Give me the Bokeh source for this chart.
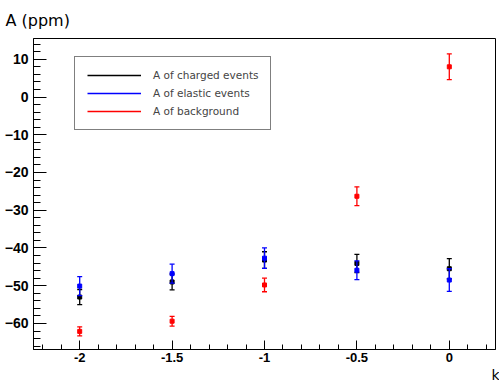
import numpy as np
from bokeh.plotting import figure
from bokeh.models import Range1d, Legend, LegendItem, Title, FixedTicker, ColumnDataSource
from bokeh.embed import file_html
from bokeh.resources import INLINE

# ---- data ----
k = [-2.0, -1.5, -1.0, -0.5, 0.0]
charged = [-53.0, -49.0, -43.2, -44.1, -45.5]
charged_err = [2.0, 2.1, 2.2, 2.4, 2.7]
elastic = [-50.1, -46.8, -42.7, -45.9, -48.5]
elastic_err = [2.5, 2.5, 2.7, 2.5, 3.0]
background = [-62.1, -59.4, -49.8, -26.3, 8.0]
background_err = [1.2, 1.3, 1.8, 2.5, 3.4]
x_ticks = [-2.0, -1.5, -1.0, -0.5, 0.0]
y_ticks = [-60, -50, -40, -30, -20, -10, 0, 10]
series_names = ["A of charged events", "A of elastic events", "A of background"]

p = figure(width=499, height=384, output_backend="svg", toolbar_location=None,
           x_range=Range1d(-2.25, 0.25), y_range=Range1d(-66.9, 15.5),
           min_border_left=33, min_border_right=4, min_border_top=36, min_border_bottom=35)
p.xgrid.visible = False
p.ygrid.visible = False
p.outline_line_color = "black"
p.outline_line_width = 1
p.outline_line_alpha = 1
p.background_fill_color = "white"
p.border_fill_color = "white"

p.title.text = "A (ppm)"
p.title.align = "left"
p.title.offset = -28
p.title.text_font = "DejaVu Sans"
p.title.text_font_size = "16px"
p.title.text_font_style = "normal"
p.title.text_color = "black"
p.title.standoff = 17

for ax in (p.xaxis[0], p.yaxis[0]):
    ax.axis_line_color = "black"
    ax.major_tick_line_color = "black"
    ax.minor_tick_line_color = "black"
    ax.major_tick_out = 0
    ax.minor_tick_out = 0
    ax.major_label_text_font = "Liberation Sans"
    ax.major_label_text_font_style = "bold"
    ax.major_label_text_font_size = "14px"
    ax.major_label_text_color = "black"

p.xaxis[0].ticker = FixedTicker(ticks=x_ticks,
                                minor_ticks=[round(v, 1) for v in np.arange(-2.2, 0.25, 0.1)])
p.yaxis[0].ticker = FixedTicker(ticks=y_ticks, minor_ticks=list(range(-66, 16, 2)))
p.xaxis[0].major_tick_in = 9
p.xaxis[0].minor_tick_in = 5
p.yaxis[0].major_tick_in = 13
p.yaxis[0].minor_tick_in = 7
p.xaxis[0].major_label_text_font_size = "13px"
p.xaxis[0].major_label_standoff = 3
p.yaxis[0].major_label_standoff = 5
p.xaxis[0].major_label_overrides = {-2.0: "-2", -1.5: "-1.5", -1.0: "-1", -0.5: "-0.5", 0.0: "0"}

colors = ["black", "#0000ff", "#ff0000"]
vals = [charged, elastic, background]
errs = [charged_err, elastic_err, background_err]
items = []
for name, c, v, e in zip(series_names, colors, vals, errs):
    lo = [a - b for a, b in zip(v, e)]
    hi = [a + b for a, b in zip(v, e)]
    src = ColumnDataSource(dict(x=k, y=v, lo=lo, hi=hi))
    seg = p.segment(x0="x", y0="lo", x1="x", y1="hi", source=src, line_color=c, line_width=1.3)
    p.scatter(x="x", y="lo", source=src, marker="dash", size=5, line_color=c, line_width=1.3)
    p.scatter(x="x", y="hi", source=src, marker="dash", size=5, line_color=c, line_width=1.3)
    p.scatter(x="x", y="y", source=src, marker="square", size=4, fill_color=c, line_color=c)
    items.append(LegendItem(label=name, renderers=[seg]))

legend = Legend(items=items, location=(41, 219), border_line_color="black", border_line_width=1,
                background_fill_color="white", background_fill_alpha=1,
                label_text_font="DejaVu Sans", label_text_font_size="10.5px",
                glyph_width=54, glyph_height=12, label_height=12, label_standoff=12,
                padding=12, spacing=6, margin=0)
p.add_layout(legend, "center")

ktitle = Title(text="k", align="right", offset=-4, text_font="DejaVu Sans",
               text_font_size="14px", text_font_style="normal", text_color="black",
               standoff=0)
p.add_layout(ktitle, "below")

open("out.html", "w").write(file_html(p, INLINE))
